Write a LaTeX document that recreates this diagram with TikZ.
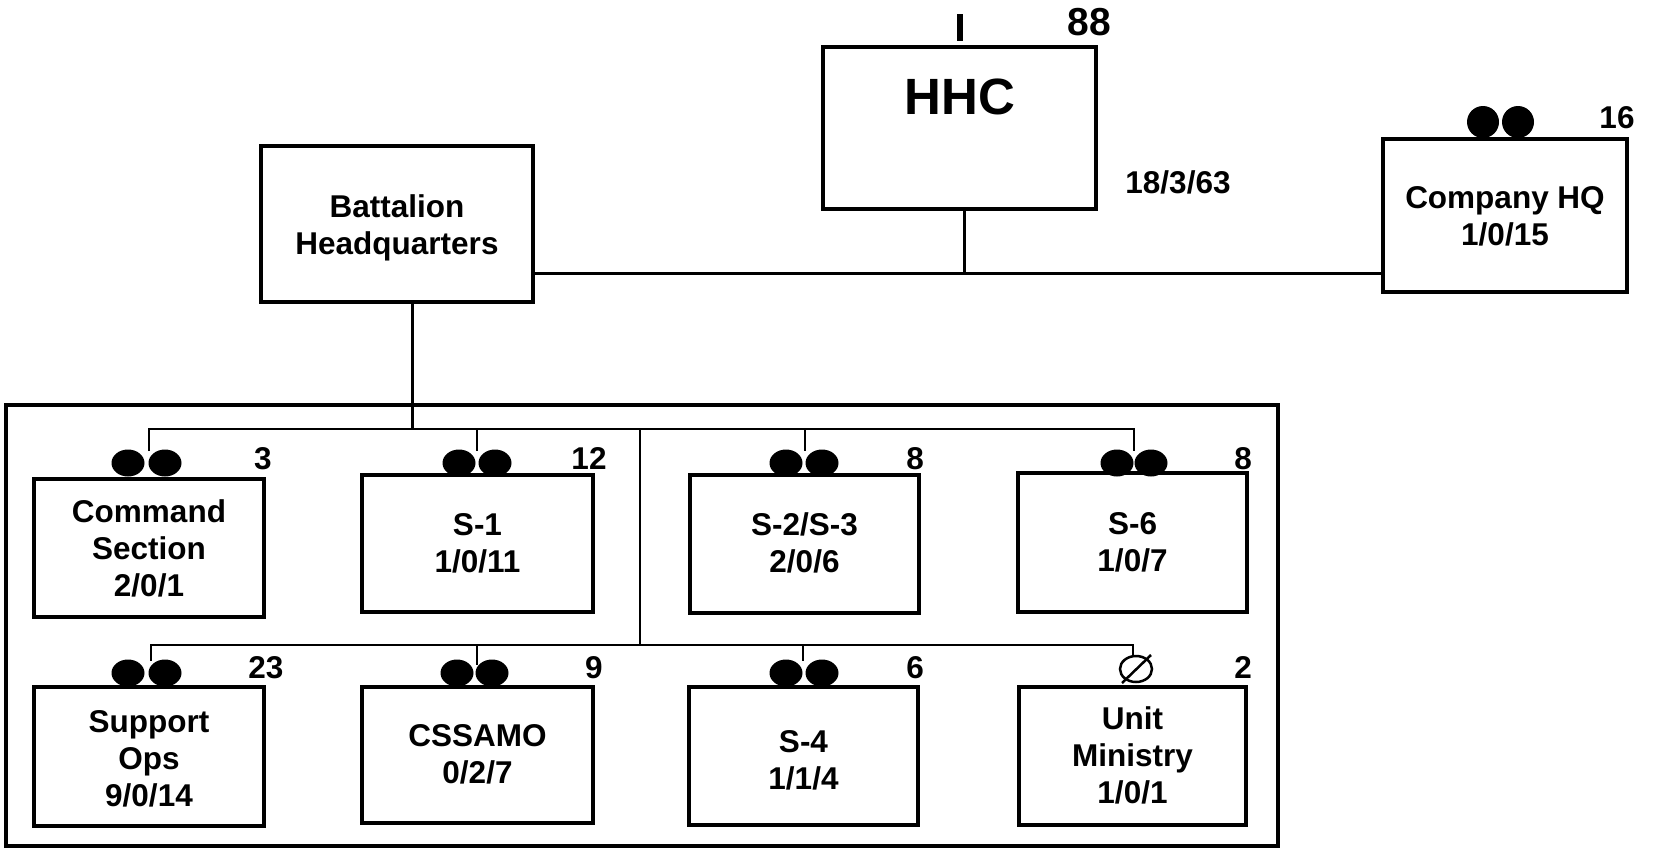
\documentclass[tikz,border=0pt]{standalone}
\usepackage{fontspec}
\setmainfont{Liberation Sans}
\begin{document}
\begin{tikzpicture}[x=1pt,y=-1pt,
  box/.style={draw, line width=3.5pt, inner sep=0pt, outer sep=0pt, minimum width=#1},
  txt/.style={inner sep=0pt, align=center, text depth=0pt, font=\bfseries\fontsize{31.5}{37}\selectfont},
  num/.style={inner sep=0pt, text depth=0pt, font=\bfseries\fontsize{31.5}{37}\selectfont},
  conn/.style={line width=3pt},
  bus/.style={line width=2.6pt},
  dot/.style={fill=black}]
\useasboundingbox (0,0) rectangle (1655,849);

% top level
\node[box=272pt, minimum height=156pt] (bat) at (397,224) {};
\node[txt] (batT) at (397,224.5) {Battalion\\Headquarters};

\node[box=273pt, minimum height=162pt] (hhc) at (959.5,128) {};
\node[txt, font=\bfseries\fontsize{51}{60}\selectfont] (hhcT) at (960,97) {HHC};
\node[num, font=\bfseries\fontsize{39}{45}\selectfont] (n88) at (1089,22) {88};
\coordinate (hhcI) at (960,14);
\draw[line width=6.5pt] (hhcI) -- (hhcI |- 0,41);
\node[num] (hhcN) at (1178,182) {18/3/63};

\node[box=244pt, minimum height=153pt] (co) at (1505,215.5) {};
\node[txt] (coT) at (1505,216) {Company HQ\\1/0/15};
\node[num] (n16) at (1617,117) {16};
\fill[dot] (1483,122) circle (16);
\fill[dot] (1518,122) circle (16);

% connectors top
\coordinate (j1) at (964,273);
\draw[conn] (j1 -| bat.east) -- (j1 -| co.west);
\draw[conn] (j1 |- hhc.south) -- (j1);
\coordinate (bv) at (412,429);
\draw[conn] (bv |- bat.south) -- (bv);

% big frame
\node[box=1272pt, minimum height=441pt] (frame) at (642,625.5) {};

% sections, top row
\node[box=230pt, minimum height=138pt] (cmd) at (149,548) {};
\node[txt] (cmdT) at (149,548) {Command\\Section\\2/0/1};
\node[box=231pt, minimum height=137pt] (s1) at (477.5,543.5) {};
\node[txt] (s1T) at (477.5,543) {S-1\\1/0/11};
\node[box=229pt, minimum height=138pt] (s23) at (804.5,544) {};
\node[txt] (s23T) at (804.5,543) {S-2/S-3\\2/0/6};
\node[box=229pt, minimum height=139pt] (s6) at (1132.5,542.5) {};
\node[txt] (s6T) at (1132.5,542) {S-6\\1/0/7};

% sections, bottom row
\node[box=230pt, minimum height=139pt] (sup) at (149,756.5) {};
\node[txt] (supT) at (149,758) {Support\\Ops\\9/0/14};
\node[box=231pt, minimum height=136pt] (css) at (477.5,755) {};
\node[txt] (cssT) at (477.5,754) {CSSAMO\\0/2/7};
\node[box=229pt, minimum height=138pt] (s4) at (803.5,756) {};
\node[txt] (s4T) at (803.5,760) {S-4\\1/1/4};
\node[box=227pt, minimum height=138pt] (um) at (1132.5,756) {};
\node[txt] (umT) at (1132.5,755.5) {Unit\\Ministry\\1/0/1};

% numbers
\node[num] (n3) at (263,458) {3};
\node[num] (n12) at (589,458) {12};
\node[num] (n8a) at (915,458) {8};
\node[num] (n8b) at (1243,458) {8};
\node[num] (n23) at (266,667) {23};
\node[num] (n9) at (594,667) {9};
\node[num] (n6) at (915,667) {6};
\node[num] (n2) at (1243,667) {2};

% dots top row
\foreach \a/\b in {128/165, 459/495, 786/822, 1117/1151}{
  \fill[dot] (\a,463) ellipse [x radius=16.5, y radius=13.5];
  \fill[dot] (\b,463) ellipse [x radius=16.5, y radius=13.5];
}
% dots bottom row
\foreach \a/\b in {128/165, 457/492, 786/822}{
  \fill[dot] (\a,673) ellipse [x radius=16.5, y radius=13.5];
  \fill[dot] (\b,673) ellipse [x radius=16.5, y radius=13.5];
}
% chaplain symbol
\coordinate (umS) at (1136,669);
\draw[line width=2.5pt] (umS) ellipse [x radius=16, y radius=13];
\draw[line width=2.5pt] (1122,683) -- (1151,655);

% section buses
\coordinate (tb1) at (149,429);
\coordinate (tb2) at (1134,429);
\coordinate (bb1) at (151,645);
\coordinate (bb2) at (1133,645);
\coordinate (mid) at (640,429);
\draw[bus] (tb1 |- 0,451) -- (tb1) -- (tb2) -- (tb2 |- 0,451);
\draw[bus] (477,429) -- (477,451);
\draw[bus] (805,429) -- (805,451);
\draw[bus] (mid) -- (mid |- bb1);
\draw[bus] (bb1 |- 0,661) -- (bb1) -- (bb2) -- (bb2 |- 0,656);
\draw[bus] (477,645) -- (477,665);
\draw[bus] (803,645) -- (803,661);
\end{tikzpicture}
\end{document}
